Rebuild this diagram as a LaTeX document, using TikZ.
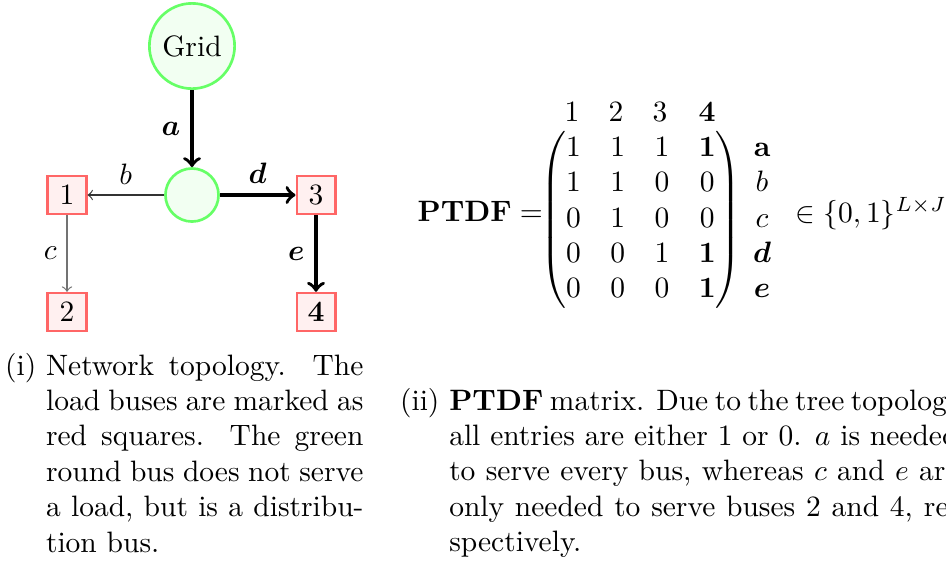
\documentclass[tikz,border=0pt]{standalone}
\usepackage{amsmath}
\newlength\labw
\newlength\capw
\newcommand\capline[1]{\hbox to \capw{#1}}
\newcommand\hangline[1]{\hbox to \capw{\hspace*{\labw}#1}}
\begin{document}
\begin{tikzpicture}[x=0.339pt,y=-0.339pt,
  bus/.style={circle,draw=green!60,fill=green!5,line width=0.9pt,inner sep=0pt},
  load/.style={rectangle,draw=red!60,fill=red!6,line width=0.9pt,inner sep=0pt,minimum width=13pt,minimum height=12.8pt},
  flow/.style={->,line width=1.2pt},
  thinflow/.style={->,line width=0.4pt},
  capt/.style={anchor=base west,inner sep=0pt},
  mtx/.style={inner sep=0pt},
  hdr/.style={anchor=base,inner sep=0pt},
]
\useasboundingbox (0,0) rectangle (946,568);

% --- network ---
\node[bus,minimum size=28.9pt] (grid) at (192,46) {Grid};
\node[bus,minimum size=18pt] (hub) at (192,195) {};
\node[load] (n1) at (67,195) {1};
\node[load] (n2) at (67,312) {2};
\node[load] (n3) at (316,195) {3};
\node[load] (n4) at (316,312) {\textbf{4}};

\draw[flow] (grid) -- (hub) node[midway,left] {$\boldsymbol{a}$};
\draw[thinflow,black!80] (hub) -- (n1) node[midway,above,text=black] {$b$};
\draw[thinflow,black!55] (n1) -- (n2) node[midway,left,text=black] {$c$};
\draw[flow] (hub) -- (n3) node[midway,above] {$\boldsymbol{d}$};
\draw[flow] (n3) -- (n4) node[midway,left] {$\boldsymbol{e}$};

% --- matrix ---
\node[anchor=base west,inner sep=0pt] (lhs) at (417,221) {$\mathbf{PTDF}=$};
\node[mtx] (M) at (641,220) {$\begin{pmatrix}
1&1&1&\mathbf{1}\\
1&1&0&0\\
0&1&0&0\\
0&0&1&\mathbf{1}\\
0&0&0&\mathbf{1}
\end{pmatrix}$};
\node[hdr] (h1) at (572,121) {$1$};
\node[hdr] (h2) at (616,121) {$2$};
\node[hdr] (h3) at (660,121) {$3$};
\node[hdr] (h4) at (707,121) {$\mathbf{4}$};
\node[hdr] (ra) at (762,156) {$\mathbf{a}$};
\node[hdr] (rb) at (762,191.6) {$b$};
\node[hdr] (rc) at (762,227) {$c$};
\node[hdr] (rd) at (762,262.4) {$\boldsymbol{d}$};
\node[hdr] (re) at (762,297.8) {$\boldsymbol{e}$};
\node[anchor=base west,inner sep=0pt] (set) at (795,222) {$\in\{0,1\}^{L\times J}$};

% --- captions ---
\node[capt] (capi) at (4.5,375) {\settowidth{\labw}{(i)\ }\setlength{\capw}{121.5pt}\vtop{%
\capline{\makebox[\labw][l]{(i)}Network topology. The}
\hangline{load buses are marked as}
\hangline{red squares. The green}
\hangline{round bus does not serve}
\hangline{a load, but is a distribu-}
\hbox{\hspace*{\labw}tion bus.}}};
\node[capt] (capii) at (399.5,410) {\settowidth{\labw}{(ii)\ }\setlength{\capw}{189.3pt}\vtop{%
\capline{\makebox[\labw][l]{(ii)}\textbf{PTDF} matrix. Due to the tree topology,}
\hangline{all entries are either 1 or 0. $a$ is needed}
\hangline{to serve every bus, whereas $c$ and $e$ are}
\hangline{only needed to serve buses 2 and 4, re-}
\hbox{\hspace*{\labw}spectively.}}};
\end{tikzpicture}
\end{document}
